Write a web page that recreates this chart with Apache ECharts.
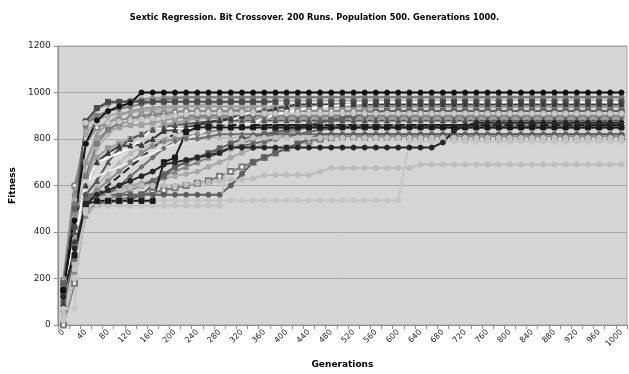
<!DOCTYPE html>
<html>
<head>
<meta charset="utf-8">
<script src="https://cdn.jsdelivr.net/npm/echarts@6/dist/echarts.min.js"></script>
<style>html,body{margin:0;padding:0;background:#fff}#c{width:629px;height:374px}</style>
</head>
<body>
<div id="c"></div>
<script>
var generations = ['0','20','40','60','80','100','120','140','160','180',
'200','220','240','260','280','300','320','340','360','380',
'400','420','440','460','480','500','520','540','560','580',
'600','620','640','660','680','700','720','740','760','780',
'800','820','840','860','880','900','920','940','960','980',
'1000'];

var run01 = [150,450,780,880,920,940,955,1000,1000,1000,
1000,1000,1000,1000,1000,1000,1000,1000,1000,1000,
1000,1000,1000,1000,1000,1000,1000,1000,1000,1000,
1000,1000,1000,1000,1000,1000,1000,1000,1000,1000,
1000,1000,1000,1000,1000,1000,1000,1000,1000,1000,
1000];
var run02 = [130,420,876,933,960,960,960,960,960,960,
960,960,960,960,960,960,960,960,960,960,
960,960,960,960,960,960,960,960,960,960,
960,960,960,960,960,960,960,960,960,960,
960,960,960,960,960,960,960,960,960,960,
960];
var run03 = [180,560,850,930,950,960,965,970,975,980,
980,980,980,980,980,980,980,980,980,980,
980,980,980,980,980,980,980,980,980,980,
980,980,980,980,980,980,980,980,980,980,
980,980,980,980,980,980,980,980,980,980,
980];
var run04 = [100,380,700,820,870,900,920,930,935,940,
940,940,940,940,940,940,940,940,940,940,
940,940,940,940,940,940,940,940,940,940,
940,940,940,940,940,940,940,940,940,940,
940,940,940,940,940,940,940,940,940,940,
940];
var run05 = [60,300,600,760,820,860,880,900,910,920,
920,920,920,920,920,920,920,920,920,920,
920,920,920,920,920,920,920,920,920,920,
920,920,920,920,920,920,920,920,920,920,
920,920,920,920,920,920,920,920,920,920,
920];
var run06 = [90,350,640,780,840,870,880,890,895,900,
900,900,900,900,900,900,900,900,900,900,
900,900,900,900,900,900,900,900,900,900,
900,900,900,900,900,900,900,900,900,900,
900,900,900,900,900,900,900,900,900,900,
900];
var run07 = [110,400,560,620,700,760,800,820,840,850,
860,865,870,875,880,880,880,880,880,880,
880,880,880,880,880,880,880,880,880,880,
880,880,880,880,880,880,880,880,880,880,
880,880,880,880,880,880,880,880,880,880,
880];
var run08 = [140,480,540,580,620,660,700,740,770,790,
800,810,820,830,840,845,850,850,850,850,
850,850,850,850,850,850,850,850,850,850,
850,850,850,850,850,850,850,850,850,850,
850,850,850,850,850,850,850,850,850,850,
850];
var run09 = [70,70,870,870,870,875,880,885,890,895,
900,905,910,910,910,910,910,910,910,910,
910,910,910,910,910,910,910,910,910,910,
910,910,910,910,910,910,910,910,910,910,
910,910,910,910,910,910,910,910,910,910,
910];
var run10 = [40,240,480,513,513,513,513,513,513,513,
513,513,513,513,513,760,790,805,805,805,
805,805,805,805,805,805,805,805,805,805,
805,805,805,805,805,805,805,805,805,805,
805,805,805,805,805,805,805,805,805,805,
805];
var run11 = [20,200,490,535,535,535,535,535,535,535,
535,535,535,535,535,535,535,535,535,535,
535,535,535,535,535,535,535,535,535,535,
535,790,790,790,790,790,790,790,790,790,
790,790,790,790,790,790,790,790,790,790,
790];
var run12 = [150,300,520,534,534,534,534,534,534,700,
720,830,850,850,850,850,850,850,850,850,
850,850,850,850,850,850,850,850,850,850,
850,850,850,850,850,850,850,850,850,850,
850,850,850,850,850,850,850,850,850,850,
850];
var run13 = [170,420,560,560,560,560,560,560,560,560,
560,560,560,560,560,600,650,700,720,740,
760,780,800,820,820,820,820,820,820,820,
820,820,820,820,820,820,820,820,820,820,
820,820,820,820,820,820,820,820,820,820,
820];
var run14 = [120,330,520,560,580,600,620,640,660,690,
700,710,720,730,740,763,763,763,763,763,
763,763,763,763,763,763,763,763,763,763,
763,763,763,763,785,835,857,870,870,870,
870,870,870,870,870,870,870,870,870,870,
870];
var run15 = [50,260,500,540,560,580,590,600,600,600,
600,605,610,615,620,625,625,630,645,645,
645,645,645,660,675,675,675,675,675,675,
675,675,690,690,690,690,690,690,690,690,
690,690,690,690,690,690,690,690,690,690,
690];
var run16 = [120,380,600,700,720,740,760,800,845,845,
845,845,845,845,845,845,855,870,890,905,
915,925,932,938,942,946,950,955,958,958,
958,958,958,958,958,958,958,958,958,958,
958,958,958,958,958,958,958,958,958,958,
958];
var run17 = [100,350,620,640,660,680,700,720,740,760,
780,800,820,840,860,880,900,920,940,958,
958,958,958,958,958,958,958,958,958,958,
958,958,958,958,958,958,958,958,958,958,
958,958,958,958,958,958,958,958,958,958,
958];
var run18 = [80,290,480,540,560,600,640,680,720,760,
790,800,800,810,820,820,820,820,820,820,
820,820,820,820,820,820,820,820,820,820,
820,820,820,820,820,820,820,820,820,820,
820,820,820,820,820,820,820,820,820,820,
820];
var run19 = [160,520,700,800,840,850,860,860,870,880,
890,890,890,890,890,890,890,890,890,890,
890,890,890,890,890,890,890,890,890,890,
890,890,890,890,890,890,890,890,890,890,
890,890,890,890,890,890,890,890,890,890,
890];
var run20 = [30,230,470,520,540,560,580,600,620,640,
660,680,700,720,740,760,780,800,810,820,
830,840,850,855,860,860,860,860,860,860,
860,860,860,860,860,860,860,860,860,860,
860,860,860,860,860,860,860,860,860,860,
860];
var run21 = [170,590,820,880,900,910,915,920,925,930,
935,940,945,950,955,960,960,960,960,960,
960,960,960,960,960,960,960,960,960,960,
960,960,960,960,960,960,960,960,960,960,
960,960,960,960,960,960,960,960,960,960,
960];
var run22 = [140,490,520,560,600,640,680,720,760,800,
820,840,850,860,860,860,860,860,860,860,
860,860,860,860,860,860,860,860,860,860,
860,860,860,860,860,860,860,860,860,860,
860,860,860,860,860,860,860,860,860,860,
860];
var run23 = [190,600,780,850,870,880,890,900,905,910,
915,920,920,920,920,920,920,920,920,920,
920,920,920,920,920,920,920,920,920,920,
920,920,920,920,920,920,920,920,920,920,
920,920,920,920,920,920,920,920,920,920,
920];
var run24 = [20,250,520,600,650,700,740,760,780,790,
800,805,805,805,805,805,805,805,805,805,
805,805,805,805,805,805,805,805,805,805,
805,805,805,805,805,805,805,805,805,805,
805,805,805,805,805,805,805,805,805,805,
805];
var run25 = [60,280,540,560,570,580,590,600,620,650,
680,700,720,740,750,760,770,780,790,800,
810,820,830,840,845,850,850,850,850,850,
850,850,850,850,850,850,850,850,850,850,
850,850,850,850,850,850,850,850,850,850,
850];
var run26 = [110,460,640,720,760,780,800,820,840,860,
870,880,890,900,910,920,930,940,940,940,
940,940,940,940,940,940,940,940,940,940,
940,940,940,940,940,940,940,940,940,940,
940,940,940,940,940,940,940,940,940,940,
940];
var run27 = [0,180,500,520,530,540,550,560,570,580,
590,600,610,620,640,660,680,700,720,740,
760,780,790,800,805,810,810,810,810,810,
810,810,810,810,810,810,810,810,810,810,
810,810,810,810,810,810,810,810,810,810,
810];
var run28 = [10,200,540,580,620,660,700,740,780,800,
820,830,840,850,860,870,880,890,900,910,
920,920,920,920,920,920,920,920,920,920,
920,920,920,920,920,920,920,920,920,920,
920,920,920,920,920,920,920,920,920,920,
920];
var run29 = [150,520,860,900,920,930,940,950,960,970,
975,980,980,980,980,980,980,980,980,980,
980,980,980,980,980,980,980,980,980,980,
980,980,980,980,980,980,980,980,980,980,
980,980,980,980,980,980,980,980,980,980,
980];
var run30 = [40,270,620,700,760,780,790,790,790,790,
790,790,790,790,790,790,790,790,790,790,
790,790,790,790,790,790,790,790,790,790,
790,790,790,790,790,790,790,790,790,790,
790,790,790,790,790,790,790,790,790,790,
790];
var run31 = [90,360,600,700,740,770,772,775,800,835,
840,850,860,870,880,890,900,910,920,930,
940,950,950,950,950,950,950,950,950,950,
950,950,950,950,950,950,950,950,950,950,
950,950,950,950,950,950,950,950,950,950,
950];
var run32 = [180,500,525,530,530,530,540,560,600,640,
680,700,720,740,760,780,800,810,820,830,
840,850,860,870,880,890,900,910,915,920,
920,920,920,920,920,920,920,920,920,920,
920,920,920,920,920,920,920,920,920,920,
920];
var run33 = [200,540,560,570,580,590,600,610,620,630,
640,650,660,680,700,720,740,760,780,800,
820,840,860,880,900,910,920,930,935,940,
940,940,940,940,940,940,940,940,940,940,
940,940,940,940,940,940,940,940,940,940,
940];
var run34 = [30,300,600,650,700,720,740,750,760,770,
780,785,790,795,800,800,800,800,800,800,
800,800,800,800,800,800,800,800,800,800,
800,800,800,800,800,800,800,800,800,800,
800,800,800,800,800,800,800,800,800,800,
800];

var runs = [
  {d: run30, c:'#cfcfcf', s:'rect'},
  {d: run34, c:'#dcdcdc', s:'triangle'},
  {d: run28, c:'#c4c4c4', s:'diamond'},
  {d: run24, c:'#b8b8b8', s:'triangle'},
  {d: run05, c:'#b0b0b0', s:'diamond'},
  {d: run21, c:'#a5a5a5', s:'circle'},
  {d: run19, c:'#a0a0a0', s:'rect'},
  {d: run04, c:'#9a9a9a', s:'triangle'},
  {d: run33, c:'#a8a8a8', s:'circle'},
  {d: run26, c:'#9c9c9c', s:'rect'},
  {d: run03, c:'#8f8f8f', s:'circle'},
  {d: run23, c:'#8a8a8a', s:'emptyCircle'},
  {d: run08, c:'#8c8c8c', s:'circle'},
  {d: run29, c:'#7a7a7a', s:'circle'},
  {d: run20, c:'#858585', s:'triangle'},
  {d: run06, c:'#7c7c7c', s:'rect'},
  {d: run27, c:'#7a7a7a', s:'emptyRect'},
  {d: run18, c:'#6e6e6e', s:'diamond'},
  {d: run13, c:'#5e5e5e', s:'circle'},
  {d: run07, c:'#555555', s:'triangle'},
  {d: run25, c:'#686868', s:'circle'},
  {d: run02, c:'#4a4a4a', s:'rect'},
  {d: run32, c:'#606060', s:'rect'},
  {d: run31, c:'#3a3a3a', s:'triangle'},
  {d: run22, c:'#222222', s:'none', dash:true},
  {d: run15, c:'#bdbdbd', s:'circle'},
  {d: run10, c:'#c2c2c2', s:'circle'},
  {d: run11, c:'#c6c6c6', s:'circle'},
  {d: run09, c:'#c8c8c8', s:'circle'},
  {d: run17, c:'#eeeeee', s:'none'},
  {d: run16, c:'#ffffff', s:'none'},
  {d: run12, c:'#1a1a1a', s:'rect'},
  {d: run14, c:'#262626', s:'circle'},
  {d: run01, c:'#111111', s:'circle'}
];

var series = runs.map(function (r, i) {
  return {
    type: 'line',
    name: 'Run ' + (i + 1),
    data: r.d,
    symbol: r.s,
    symbolSize: 5,
    showSymbol: r.s !== 'none',
    lineStyle: {width: 2, color: r.c, type: r.dash ? 'dashed' : 'solid'},
    itemStyle: {color: r.c, borderColor: r.c},
    emphasis: {disabled: true},
    animation: false
  };
});

var chart = echarts.init(document.getElementById('c'), null, {renderer: 'canvas'});
chart.setOption({
  backgroundColor: '#ffffff',
  animation: false,
  title: {
    text: 'Sextic Regression. Bit Crossover. 200 Runs. Population 500. Generations 1000.',
    left: 'center', top: 9,
    textStyle: {fontFamily: 'DejaVu Sans', fontWeight: 'bold', fontSize: 8.3, color: '#000'}
  },
  grid: {left: 57, right: 2, top: 46, bottom: 45, show: true, backgroundColor: '#d5d5d5', borderColor: '#a3a3a3', borderWidth: 1},
  xAxis: {
    type: 'category',
    data: generations,
    boundaryGap: true,
    name: 'Generations',
    nameLocation: 'middle',
    nameGap: 35,
    nameTextStyle: {fontFamily: 'DejaVu Sans', fontWeight: 'bold', fontSize: 9, color: '#000'},
    axisLine: {lineStyle: {color: '#8c8c8c', width: 1}},
    axisTick: {show: true, interval: 0, length: 4, lineStyle: {color: '#8c8c8c'}},
    axisLabel: {interval: 1, rotate: 45, fontFamily: 'DejaVu Sans', fontSize: 8, color: '#222', margin: 6},
    splitLine: {show: false}
  },
  yAxis: {
    type: 'value',
    min: 0, max: 1200, interval: 200,
    name: 'Fitness',
    nameLocation: 'middle',
    nameGap: 32,
    nameTextStyle: {fontFamily: 'DejaVu Sans', fontWeight: 'bold', fontSize: 9, color: '#000'},
    axisLine: {show: true, lineStyle: {color: '#8c8c8c', width: 1}},
    axisTick: {show: true, length: 4, lineStyle: {color: '#8c8c8c'}},
    axisLabel: {fontFamily: 'DejaVu Sans', fontSize: 9, color: '#222', margin: 7, formatter: function (v) { return String(v); }},
    splitLine: {lineStyle: {color: '#a8a8a8', width: 1}}
  },
  series: series
});
</script>
</body>
</html>
